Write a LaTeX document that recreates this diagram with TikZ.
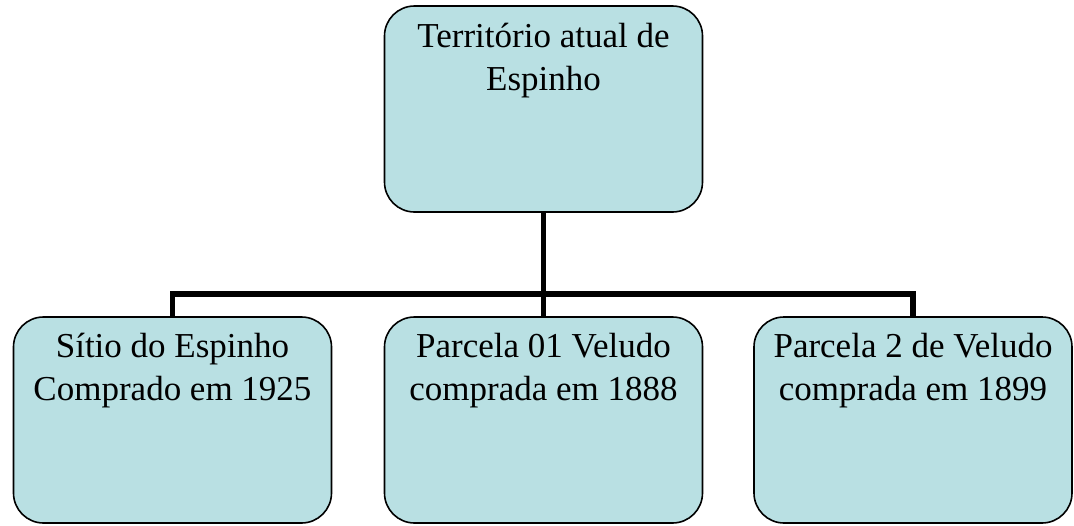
\documentclass[tikz,border=0pt]{standalone}
\usepackage{fontspec}
\setmainfont{Liberation Serif}
\definecolor{boxfill}{RGB}{185,224,227}
\begin{document}
\begin{tikzpicture}[x=1pt,y=1pt,
  box/.style={draw=black, line width=1.6pt, fill=boxfill, rounded corners=30pt,
    minimum width=318pt, minimum height=206pt, inner sep=0pt},
  txt/.style={anchor=north, align=center, inner sep=0pt,
    font=\fontsize{35}{42.5}\selectfont},
  conn/.style={draw=black, line width=5.5pt}]
\useasboundingbox (0,0) rectangle (1074,-525);
\node[box] (top) at (543.5,-109) {};
\node[box] (left) at (172.5,-420) {};
\node[box] (mid) at (543.5,-420) {};
\node[box] (right) at (913,-420) {};
\node[txt] (topt) at ([yshift=-18pt]top.north) {Território atual de\\Espinho};
\node[txt] (leftt) at ([yshift=-17pt]left.north) {Sítio do Espinho\\Comprado em 1925};
\node[txt] (midt) at ([yshift=-17pt]mid.north) {Parcela 01 Veludo\\comprada em 1888};
\node[txt] (rightt) at ([yshift=-17pt]right.north) {Parcela 2 de Veludo\\comprada em 1899};
\coordinate (bus) at (543.5,-294);
\draw[conn] (top.south) -- (mid.north);
\draw[conn, line join=miter] (left.north) -- (left.north |- bus) -- (right.north |- bus) -- (right.north);
\end{tikzpicture}
\end{document}
